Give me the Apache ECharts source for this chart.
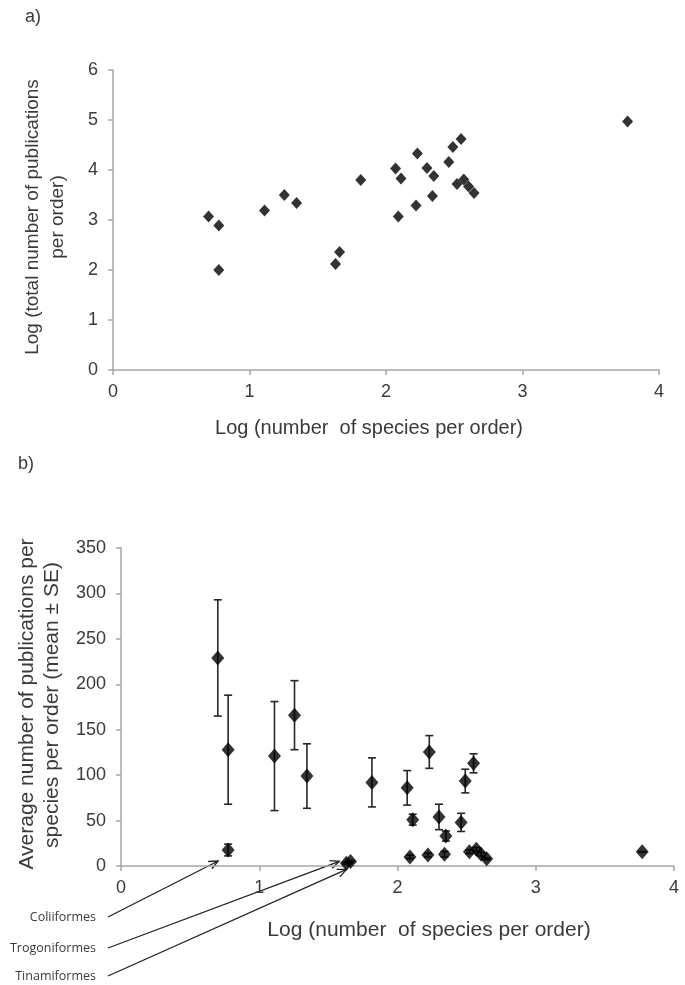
<!DOCTYPE html>
<html>
<head>
<meta charset="utf-8">
<script src="https://cdn.jsdelivr.net/npm/echarts@6/dist/echarts.min.js"></script>
<style>
html,body{margin:0;padding:0;background:#fff;}
#chart{width:685px;height:985px;}
</style>
</head>
<body>
<div id="chart"></div>
<script>
// ---- data ----
// log10(number of species per order), one entry per bird order
var speciesLog = [0.70, 0.775, 0.775, 1.11, 1.255, 1.345, 1.63, 1.66, 1.815, 2.07, 2.09, 2.11, 2.22, 2.23, 2.30, 2.34, 2.35, 2.46, 2.49, 2.52, 2.55, 2.57, 2.605, 2.645, 3.77];
// panel a: log10(total number of publications per order)
var pubsLog = [3.07, 2.89, 2.00, 3.19, 3.50, 3.34, 2.12, 2.36, 3.80, 4.03, 3.07, 3.83, 3.29, 4.33, 4.04, 3.48, 3.88, 4.16, 4.46, 3.72, 4.62, 3.81, 3.67, 3.54, 4.97];
// panel b: mean publications per species per order, and SE
var meanPubs = [229, 128, 17.6, 121, 166, 99, 3, 5, 92, 86, 10, 51, 12, 125.5, 54, 13, 33, 48, 93.5, 15.7, 113, 18.4, 13, 8, 15.7];
var sePubs = [64, 60, 6.5, 60, 38, 35.5, 1, 1, 27, 19, 2, 6, 2, 18, 14, 3, 5.5, 10, 13, 2, 10.5, 2, 2, 1, 0];
// annotated orders (index into the arrays above)
var annotNames = ['Coliiformes', 'Trogoniformes', 'Tinamiformes'];
var annotIndex = [2, 6, 7];

var xTicksA = [0, 1, 2, 3, 4];
var yTicksA = [0, 1, 2, 3, 4, 5, 6];
var yTicksB = [0, 50, 100, 150, 200, 250, 300, 350];

var ptsA = speciesLog.map(function (x, i) { return [x, pubsLog[i]]; });
var ptsB = speciesLog.map(function (x, i) { return [x, meanPubs[i]]; });
var errB = speciesLog.map(function (x, i) { return [x, meanPubs[i] - sePubs[i], meanPubs[i] + sePubs[i]]; });

var FONT = '"Liberation Sans", Arial, sans-serif';
var axisCol = '#a6a6a6';
var txtCol = '#3a3a3a';

function xAxisCfg(gi, maxV) {
  return {
    type: 'value', gridIndex: gi, min: 0, max: maxV, interval: 1,
    axisLine: {show: true, onZero: false, lineStyle: {color: axisCol, width: 1.5}},
    axisTick: {show: true, inside: false, length: 5, lineStyle: {color: axisCol, width: 1.5}},
    axisLabel: {color: txtCol, fontFamily: FONT, fontSize: 18, margin: 13},
    splitLine: {show: false}
  };
}
function yAxisCfg(gi, maxV, step) {
  return {
    type: 'value', gridIndex: gi, min: 0, max: maxV, interval: step,
    axisLine: {show: true, onZero: false, lineStyle: {color: axisCol, width: 1.5}},
    axisTick: {show: true, inside: false, length: 5, lineStyle: {color: axisCol, width: 1.5}},
    axisLabel: {color: txtCol, fontFamily: FONT, fontSize: 18, margin: 15},
    splitLine: {show: false}
  };
}

function vText(txt, x, y, align, size) {
  return {
    type: 'text', x: x, y: y, rotation: Math.PI / 2,
    style: {text: txt, x: 0, y: 0, textAlign: align, textVerticalAlign: 'middle',
      font: (size || 19) + 'px ' + FONT, fill: txtCol}
  };
}
function hText(txt, x, y, align, size, font) {
  return {
    type: 'text', x: x, y: y,
    style: {text: txt, x: 0, y: 0, textAlign: align || 'center', textVerticalAlign: 'middle',
      font: (size || 19) + 'px ' + (font || FONT), fill: txtCol}
  };
}

var chart = echarts.init(document.getElementById('chart'), null, {renderer: 'canvas'});

var option = {
  backgroundColor: '#ffffff',
  animation: false,
  grid: [
    {left: 113, right: 26, top: 70, bottom: 615, outerBoundsMode: 'none'},
    {left: 121, right: 11, top: 548, bottom: 119, outerBoundsMode: 'none'}
  ],
  xAxis: [xAxisCfg(0, 4), xAxisCfg(1, 4)],
  yAxis: [yAxisCfg(0, 6, 1), yAxisCfg(1, 350, 50)],
  series: [
    {
      type: 'scatter', xAxisIndex: 0, yAxisIndex: 0, data: ptsA,
      symbol: 'diamond', symbolSize: [11, 12],
      itemStyle: {color: '#000'}, z: 5
    },
    {
      type: 'custom', xAxisIndex: 1, yAxisIndex: 1, data: errB, z: 3,
      renderItem: function (params, api) {
        var x = api.value(0);
        var lo = api.coord([x, api.value(1)]);
        var hi = api.coord([x, api.value(2)]);
        var cw = 4;
        var st = {stroke: '#262626', lineWidth: 1.6};
        return {
          type: 'group',
          children: [
            {type: 'line', shape: {x1: lo[0], y1: lo[1], x2: hi[0], y2: hi[1]}, style: st},
            {type: 'line', shape: {x1: hi[0] - cw, y1: hi[1], x2: hi[0] + cw, y2: hi[1]}, style: st},
            {type: 'line', shape: {x1: lo[0] - cw, y1: lo[1], x2: lo[0] + cw, y2: lo[1]}, style: st}
          ]
        };
      }
    },
    {
      type: 'scatter', xAxisIndex: 1, yAxisIndex: 1, data: ptsB,
      symbol: 'diamond', symbolSize: [13, 15],
      itemStyle: {color: '#000'}, z: 5
    }
  ],
  graphic: [
    hText('a)', 25, 17, 'left', 18),
    hText('b)', 18, 464, 'left', 18),
    vText('Log (total number of publications', 33, 217, 'center', 19),
    vText('per order)', 58, 217, 'center', 19),
    hText('Log (number  of species per order)', 369, 428, 'center', 20),
    vText('Average number of publications per', 27, 704, 'center', 21),
    vText('species per order (mean \u00b1 SE)', 52, 705, 'center', 21),
    hText('Log (number  of species per order)', 429, 930, 'center', 21)
  ]
};
chart.setOption(option);

// annotations with arrows pointing to the labelled orders
var starts = [[108, 917], [108, 948], [108, 976]];
var tipOffsets = [[-10, 11], [-7, -2], [-4, 8]];
var labelY = [917, 948, 976];
var extra = [];
annotIndex.forEach(function (idx, k) {
  var p = chart.convertToPixel({gridIndex: 1}, [speciesLog[idx], meanPubs[idx]]);
  var tip = [p[0] + tipOffsets[k][0], p[1] + tipOffsets[k][1]];
  var s = starts[k];
  var ang = Math.atan2(tip[1] - s[1], tip[0] - s[0]);
  var L = 10, a = 0.42;
  var h1 = [tip[0] - L * Math.cos(ang - a), tip[1] - L * Math.sin(ang - a)];
  var h2 = [tip[0] - L * Math.cos(ang + a), tip[1] - L * Math.sin(ang + a)];
  extra.push({type: 'line', shape: {x1: s[0], y1: s[1], x2: tip[0], y2: tip[1]},
    style: {stroke: '#222', lineWidth: 1.3}});
  extra.push({type: 'polyline', shape: {points: [h1, tip, h2]},
    style: {stroke: '#222', lineWidth: 1.3, fill: null}});
  extra.push(hText(annotNames[k], 96, labelY[k], 'right', 12.5, '"Open Sans", sans-serif'));
});
chart.setOption({graphic: option.graphic.concat(extra)});
</script>
</body>
</html>
